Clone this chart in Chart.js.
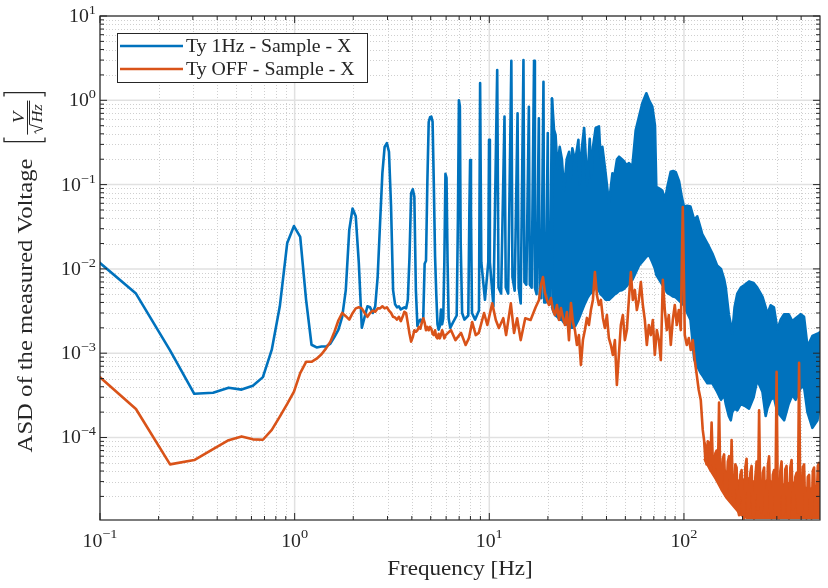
<!DOCTYPE html>
<html>
<head>
<meta charset="utf-8">
<script src="https://cdn.jsdelivr.net/npm/chart.js@4.4.0/dist/chart.umd.min.js"></script>
<style>
  html, body { margin: 0; padding: 0; background: #fff; }
  #wrap { width: 828px; height: 588px; position: relative; }
</style>
</head>
<body>
<div id="wrap"><canvas id="chart_asd_sample_x"></canvas></div>
<script>
// axis ticks
var xTickValues = [0.1, 1, 10, 100];
var xTickExponents = ['\u22121', '0', '1', '2'];
var yTickValues = [1e-4, 1e-3, 1e-2, 1e-1, 1, 10];
var yTickExponents = ['\u22124', '\u22123', '\u22122', '\u22121', '0', '1'];
var xMin = 0.1, xMax = 500, yMin = 1.05e-5, yMax = 10;

var seriesNames = ['Ty 1Hz - Sample - X', 'Ty OFF - Sample - X'];

// Ty 1Hz: resolved line up to ~21 Hz
var blueLowFreq = [0.0763, 0.153, 0.229, 0.305, 0.381, 0.458, 0.534, 0.610, 0.687, 0.763,
  0.839, 0.916, 0.992, 1.068, 1.145, 1.221, 1.297, 1.374, 1.450, 1.526,
  1.602, 1.679, 1.755, 1.831, 1.908, 1.984, 2.060, 2.136, 2.213, 2.289,
  2.365, 2.441, 2.518, 2.594, 2.670, 2.747, 2.823, 2.899, 2.976, 3.052,
  3.128, 3.204, 3.281, 3.357, 3.433, 3.510, 3.586, 3.662, 3.738, 3.815,
  3.891, 3.967, 4.044, 4.120, 4.196, 4.272, 4.349, 4.425, 4.501, 4.578,
  4.654, 4.730, 4.807, 4.883, 4.960, 5.036, 5.112, 5.188, 5.265, 5.341,
  5.417, 5.494, 5.570, 5.646, 5.723, 5.800, 5.876, 5.952, 6.029, 6.105,
  6.181, 6.30, 6.50, 6.80, 6.90, 6.98, 7.06, 7.13, 7.25, 7.45,
  7.80, 7.90, 7.97, 8.05, 8.15, 8.45, 8.85, 8.97, 9.10, 9.50,
  9.88, 9.97, 10.07, 10.5, 10.98, 11.15, 11.5, 11.97, 12.15, 12.5,
  12.98, 13.15, 13.5, 13.97, 14.15, 14.5, 14.98, 15.15, 15.5, 15.97,
  16.15, 16.5, 16.98, 17.15, 17.5, 17.97, 18.15, 18.5, 18.98, 19.15,
  19.5, 19.97, 20.15, 20.5, 20.98, 21.2];
var blueLowAsd = [0.020, 0.0051, 0.00108, 0.00033, 0.00034, 0.00039, 0.00037, 0.00041, 0.00052, 0.0011,
  0.0036, 0.0203, 0.0322, 0.024, 0.0043, 0.00126, 0.00117, 0.0012, 0.0012, 0.0013,
  0.00156, 0.0019, 0.0027, 0.0056, 0.029, 0.052, 0.042, 0.0118, 0.0020, 0.0027,
  0.0036, 0.0035, 0.0030, 0.0036, 0.0081, 0.035, 0.137, 0.28, 0.31, 0.245,
  0.055, 0.0056, 0.0038, 0.0035, 0.0036, 0.0033, 0.0034, 0.0035, 0.0034, 0.0043,
  0.014, 0.079, 0.088, 0.072, 0.0056, 0.0021, 0.0024, 0.0025, 0.0023, 0.0026,
  0.0115, 0.0125, 0.11, 0.55, 0.63, 0.64, 0.56, 0.10, 0.014, 0.0050,
  0.0022, 0.0019, 0.0021, 0.0033, 0.0022, 0.0026, 0.012, 0.134, 0.12, 0.012,
  0.0026, 0.0020, 0.0023, 0.0028, 0.04, 1.0, 0.85, 0.02, 0.0030, 0.0025,
  0.0028, 0.05, 0.196, 0.05, 0.0030, 0.0025, 0.0032, 1.6, 0.012, 0.0043,
  0.012, 0.34, 0.012, 0.0036, 2.29, 0.006, 0.0051, 0.64, 0.006, 0.0051,
  2.95, 0.008, 0.0055, 0.70, 0.006, 0.0039, 3.0, 0.007, 0.0065, 0.84,
  0.0065, 0.0060, 2.95, 0.006, 0.0050, 0.61, 0.005, 0.0045, 1.66, 0.004,
  0.004, 0.41, 0.004, 0.0038, 1.05, 0.0035];

// Ty 1Hz: dense part above ~21 Hz, upper and lower envelope
var blueBandFreq = [21.0, 21.5, 21.9, 22.4, 23.0, 23.6, 24.2, 25.0, 25.7, 26.2,
  26.7, 27.6, 28.7, 29.1, 29.6, 30.7, 31.9, 32.8, 33.5, 34.1,
  35.2, 36.6, 37.3, 38.1, 39.6, 41.2, 42.9, 44.0, 45.3, 46.4,
  48.0, 49.2, 50.6, 52.2, 54.3, 56.5, 58.8, 61.1, 64.1, 66.2,
  68.8, 71.0, 72.1, 74.5, 77.4, 80.0, 82.2, 85.5, 88.0, 90.8,
  94.4, 97.4, 100, 104, 108, 113, 117, 122, 124, 132,
  140, 148, 155, 161, 164, 170, 174, 177, 182, 188,
  196, 204, 216, 228, 238, 253, 263, 268, 279, 290,
  302, 314, 327, 345, 360, 375, 398, 414, 431, 457,
  485, 505];
var blueBandUpper = [1.05, 0.45, 0.39, 0.15, 0.28, 0.20, 0.086, 0.20, 0.245, 0.12,
  0.27, 0.19, 0.34, 0.10, 0.22, 0.47, 0.099, 0.35, 0.12, 0.28,
  0.47, 0.49, 0.20, 0.28, 0.136, 0.060, 0.136, 0.13, 0.20, 0.214,
  0.20, 0.19, 0.17, 0.18, 0.163, 0.44, 0.64, 0.92, 1.21, 1.0,
  0.84, 0.50, 0.094, 0.090, 0.085, 0.066, 0.094, 0.142, 0.145, 0.140,
  0.110, 0.072, 0.055, 0.056, 0.055, 0.038, 0.042, 0.030, 0.026, 0.020,
  0.0152, 0.011, 0.010, 0.0075, 0.0060, 0.0029, 0.0022, 0.0017, 0.0035, 0.0051,
  0.0060, 0.0064, 0.0071, 0.0068, 0.0060, 0.0047, 0.0035, 0.0029, 0.0037, 0.0035,
  0.0019, 0.0025, 0.0029, 0.0029, 0.0024, 0.0026, 0.0029, 0.0027, 0.0012, 0.0016,
  0.0017, 0.0018];
var blueBandLower = [0.0035, 0.0030, 0.0028, 0.0027, 0.0025, 0.0025, 0.0023, 0.0022, 0.0021, 0.0020,
  0.0020, 0.0021, 0.0025, 0.0027, 0.0030, 0.0037, 0.0045, 0.0050, 0.0052, 0.0055,
  0.0061, 0.0055, 0.0050, 0.0048, 0.0043, 0.0043, 0.0047, 0.0050, 0.0052, 0.0055,
  0.0056, 0.0058, 0.0062, 0.0068, 0.0074, 0.0090, 0.0110, 0.0122, 0.0140, 0.0146,
  0.0120, 0.0100, 0.0085, 0.0075, 0.0065, 0.0058, 0.0052, 0.0049, 0.0047, 0.0046,
  0.0042, 0.0039, 0.0037, 0.0030, 0.0025, 0.00084, 0.00070, 0.00058, 0.00055, 0.00044,
  0.00044, 0.00035, 0.00028, 0.00032, 0.00025, 0.00018, 0.00016, 0.00020, 0.00022, 0.00021,
  0.00025, 0.00024, 0.00022, 0.00030, 0.00048, 0.00035, 0.00018, 0.00022, 0.00028, 0.00030,
  0.00020, 0.00018, 0.00016, 0.00025, 0.00032, 0.00028, 0.00039, 0.00040, 0.00020, 0.00013,
  0.00016, 0.00030];

// Ty OFF
var orangeFreq = [0.0763, 0.153, 0.229, 0.305, 0.381, 0.458, 0.534, 0.610, 0.687, 0.763,
  0.839, 0.916, 0.992, 1.068, 1.145, 1.221, 1.297, 1.374, 1.450, 1.526,
  1.602, 1.679, 1.755, 1.831, 1.908, 1.984, 2.060, 2.136, 2.213, 2.289,
  2.365, 2.441, 2.518, 2.594, 2.670, 2.747, 2.823, 2.899, 2.976, 3.052,
  3.128, 3.204, 3.281, 3.357, 3.433, 3.510, 3.586, 3.662, 3.738, 3.815,
  3.891, 3.967, 4.044, 4.120, 4.196, 4.272, 4.349, 4.425, 4.501, 4.578,
  4.654, 4.730, 4.807, 4.883, 4.960, 5.036, 5.112, 5.188, 5.265, 5.341,
  5.417, 5.494, 5.570, 5.646, 5.723, 5.800, 5.876, 5.97, 6.35, 6.70,
  7.16, 7.56, 7.86, 8.17, 8.52, 8.83, 9.40, 9.77, 10.35, 10.8,
  11.2, 11.8, 12.2, 12.9, 13.4, 13.9, 14.5, 15.3, 16.3, 17.3,
  18.0, 18.43, 18.87, 19.32, 19.78, 20.26, 20.74, 21.24, 21.74, 22.26,
  22.80, 23.34, 23.90, 24.47, 25.06, 25.66, 26.27, 26.90, 27.54, 28.20,
  28.87, 29.56, 30.27, 30.99, 31.73, 32.49, 33.27, 34.06, 34.88, 35.71,
  36.56, 37.44, 38.33, 39.25, 40.19, 41.15, 42.13, 43.14, 44.17, 45.23,
  46.31, 47.41, 48.55, 49.71, 50.90, 52.11, 53.36, 54.63, 55.94, 57.28,
  58.65, 60.05, 61.49, 62.96, 64.46, 66.00, 67.58, 69.20, 70.85, 72.55,
  74.28, 76.06, 77.88, 79.74, 81.65, 83.60, 85.60, 87.64, 89.74, 91.88,
  94.08, 96.33, 98.63, 100.99, 103.4, 105.9, 108.4, 111.0, 113.6, 116.4,
  119.1, 122.0, 124.9,
  126.9, 128.8, 130.7, 132.6, 134.6, 136.6, 138.7, 140.7, 142.8, 145.0,
  147.1, 149.3, 151.5, 153.8, 156.1, 158.4, 160.8, 163.2, 165.6, 168.1,
  170.6, 173.1, 175.7, 178.3, 181.0, 183.7, 186.4, 189.2, 192.0, 194.9,
  197.8, 200.7, 203.7, 206.7, 209.8, 212.9, 216.1, 219.3, 222.6, 225.9,
  229.3, 232.7, 236.2, 239.7, 243.3, 246.9, 250.6, 254.3, 258.1, 261.9,
  265.8, 269.8, 273.8, 277.9, 282.0, 286.2, 290.5, 294.8, 299.2, 303.7,
  308.2, 312.8, 317.4, 322.1, 326.9, 331.8, 336.7, 341.7, 346.8, 352.0,
  357.3, 362.6, 368.0, 373.5, 379.0, 384.7, 390.4, 396.2, 402.1, 408.1,
  414.2, 420.4, 426.6, 432.9, 439.4, 445.9, 452.6, 459.3, 466.2, 473.1,
  480.2, 487.3, 494.6, 502.0, 509.4];
var orangeAsd = [9.0e-4, 2.18e-4, 4.8e-5, 5.4e-5, 7.3e-5, 9.3e-5, 1.03e-4, 9.5e-5, 9.4e-5, 1.23e-4,
  1.77e-4, 2.5e-4, 3.5e-4, 5.8e-4, 7.9e-4, 7.9e-4, 8.6e-4, 9.7e-4, 1.14e-3, 1.37e-3,
  1.8e-3, 2.46e-3, 3.0e-3, 2.75e-3, 2.5e-3, 2.98e-3, 3.4e-3, 3.5e-3, 3.4e-3, 3.0e-3,
  2.7e-3, 3.0e-3, 3.2e-3, 3.1e-3, 3.4e-3, 3.4e-3, 3.6e-3, 3.4e-3, 3.5e-3, 3.2e-3,
  3.0e-3, 2.7e-3, 2.65e-3, 2.5e-3, 2.7e-3, 2.4e-3, 2.7e-3, 3.1e-3, 3.0e-3, 2.26e-3,
  1.7e-3, 1.37e-3, 1.55e-3, 1.87e-3, 1.8e-3, 1.87e-3, 2.05e-3, 1.95e-3, 2.3e-3, 2.6e-3,
  2.3e-3, 1.87e-3, 2.05e-3, 1.87e-3, 2.05e-3, 1.95e-3, 1.7e-3, 1.64e-3, 1.87e-3, 1.56e-3,
  1.5e-3, 1.7e-3, 1.5e-3, 1.64e-3, 1.87e-3, 1.7e-3, 1.5e-3, 1.64e-3, 1.88e-3, 1.43e-3,
  1.74e-3, 1.25e-3, 1.51e-3, 2.34e-3, 1.64e-3, 1.74e-3, 3.0e-3, 2.16e-3, 3.9e-3, 2.48e-3,
  1.99e-3, 2.6e-3, 1.64e-3, 3.9e-3, 1.74e-3, 2.6e-3, 1.43e-3, 2.6e-3, 2.48e-3, 3.5e-3,
  4.28e-3, 6.44e-3, 8.0e-3, 5.18e-3, 4.28e-3, 3.73e-3, 4.52e-3, 3.25e-3, 2.84e-3, 3.73e-3,
  2.48e-3, 3.44e-3, 2.62e-3, 2.16e-3, 3.08e-3, 1.43e-3, 3.94e-3, 2.34e-3, 1.88e-3, 1.25e-3,
  1.64e-3, 7.24e-4, 1.43e-3, 1.88e-3, 2.62e-3, 2.16e-3, 3.25e-3, 4.28e-3, 9.19e-3, 4.90e-3,
  3.73e-3, 4.28e-3, 2.62e-3, 1.99e-3, 2.84e-3, 1.51e-3, 1.25e-3, 9.53e-4, 1.43e-3, 4.20e-4,
  9.53e-4, 2.16e-3, 2.84e-3, 1.43e-3, 1.88e-3, 4.28e-3, 9.19e-3, 4.28e-3, 5.62e-3, 3.25e-3,
  4.28e-3, 7.0e-3, 3.73e-3, 2.48e-3, 1.25e-3, 2.16e-3, 1.64e-3, 2.48e-3, 9.53e-4, 1.88e-3,
  1.43e-3, 8.30e-4, 7.4e-3, 3.25e-3, 1.88e-3, 2.84e-3, 1.25e-3, 2.48e-3, 3.73e-3, 2.16e-3,
  3.25e-3, 1.88e-3, 0.054, 1.64e-3, 1.25e-3, 1.51e-3, 1.09e-3, 1.43e-3, 8.30e-4, 5.5e-4,
  3.66e-4, 2.79e-4, 1.23e-4,
  9.3e-5, 5.5e-5, 4.8e-5, 9.0e-5, 8.6e-5, 4.6e-5, 1.5e-4, 5.0e-5, 4.1e-5, 6.5e-5,
  7.0e-5, 3.2e-5, 2.6e-4, 2.8e-5, 3.0e-5, 5.6e-5, 6.3e-5, 2.2e-5, 2.4e-5, 5.2e-5,
  6.0e-5, 2.0e-5, 9.3e-5, 2.4e-5, 1.6e-5, 4.8e-5, 4.4e-5, 1.4e-5, 1.2e-5, 3.6e-5,
  4.1e-5, 1.2e-5, 1.1e-5, 4.4e-5, 5.6e-5, 1.3e-5, 1.5e-5, 3.8e-5, 4.6e-5, 1.2e-5,
  1.1e-5, 3.4e-5, 5.2e-5, 1.4e-5, 2.1e-4, 1.6e-5, 1.3e-5, 3.8e-5, 4.4e-5, 1.2e-5,
  1.2e-5, 4.6e-5, 6.0e-5, 1.3e-5, 1.1e-5, 3.6e-5, 4.1e-5, 1.3e-5, 6.0e-4, 1.4e-5,
  1.1e-5, 4.0e-5, 5.2e-5, 1.2e-5, 1.3e-5, 4.2e-5, 4.6e-5, 1.2e-5, 1.1e-5, 4.4e-5,
  5.4e-5, 1.4e-5, 1.5e-5, 3.4e-5, 3.8e-5, 1.3e-5, 7.7e-4, 1.3e-5, 1.2e-5, 4.4e-5,
  4.8e-5, 1.2e-5, 1.1e-5, 3.4e-5, 3.6e-5, 1.2e-5, 1.1e-5, 4.0e-5, 4.4e-5, 1.3e-5,
  1.6e-5, 4.6e-5, 5.0e-5, 1.3e-5, 1.1e-5];

// Ty OFF: dense floor above ~125 Hz, upper and lower envelope
var orangeBandFreq = [127, 135, 145, 155, 165, 180, 195, 210, 230, 250,
  270, 300, 330, 360, 400, 450, 505];
var orangeBandUpper = [9.0e-5, 7.0e-5, 5.5e-5, 4.5e-5, 4.0e-5, 3.4e-5, 3.0e-5, 3.4e-5, 3.0e-5, 2.8e-5,
  3.2e-5, 2.8e-5, 2.8e-5, 3.0e-5, 2.6e-5, 2.5e-5, 2.8e-5];
var orangeBandLower = [5.5e-5, 4.2e-5, 3.2e-5, 2.4e-5, 1.9e-5, 1.5e-5, 1.2e-5, 1.1e-5, 1.1e-5, 1.1e-5,
  1.1e-5, 1.1e-5, 1.1e-5, 1.1e-5, 1.1e-5, 1.1e-5, 1.1e-5];

var BLUE = '#0072BD', ORANGE = '#D95319', INK = '#262626';
var SERIF = '"Liberation Serif", "DejaVu Serif", serif';

function toPoints(f, v) {
  return f.map(function (x, i) { return { x: x, y: v[i] }; });
}

function drawText(ctx, txt, x, y, size, align, italic, sx) {
  sx = sx || 1.1;
  ctx.font = (italic ? 'italic ' : '') + size + 'px ' + SERIF;
  var w = ctx.measureText(txt).width * sx;
  var left = x;
  if (align === 'center') left = x - w / 2;
  else if (align === 'right') left = x - w;
  ctx.save();
  ctx.translate(left, y);
  ctx.scale(sx, 1);
  ctx.textAlign = 'left';
  ctx.textBaseline = 'alphabetic';
  ctx.fillText(txt, 0, 0);
  ctx.restore();
  return w;
}
function textWidth(ctx, txt, size, italic, sx) {
  ctx.font = (italic ? 'italic ' : '') + size + 'px ' + SERIF;
  return ctx.measureText(txt).width * (sx || 1.1);
}

function minorValues(lo, hi) {
  var out = [];
  for (var e = Math.floor(Math.log10(lo)); e <= Math.ceil(Math.log10(hi)); e++) {
    for (var k = 2; k <= 9; k++) {
      var v = k * Math.pow(10, e);
      if (v > lo && v < hi) out.push(v);
    }
  }
  return out;
}

var axesDecor = {
  id: 'axesDecor',
  beforeDatasetsDraw: function (chart) {
    var ctx = chart.ctx, a = chart.chartArea;
    var xs = chart.scales.x, ys = chart.scales.y;
    ctx.save();
    ctx.fillStyle = '#ffffff';
    ctx.fillRect(0, 0, chart.width, chart.height);
    // minor grid
    ctx.strokeStyle = '#cfcfcf';
    ctx.lineWidth = 1;
    ctx.setLineDash([1, 2]);
    minorValues(xMin, xMax).forEach(function (v) {
      var px = Math.round(xs.getPixelForValue(v)) + 0.5;
      ctx.beginPath(); ctx.moveTo(px, a.top); ctx.lineTo(px, a.bottom); ctx.stroke();
    });
    minorValues(yMin, yMax).forEach(function (v) {
      var py = Math.round(ys.getPixelForValue(v)) + 0.5;
      ctx.beginPath(); ctx.moveTo(a.left, py); ctx.lineTo(a.right, py); ctx.stroke();
    });
    // major grid
    ctx.setLineDash([]);
    ctx.strokeStyle = '#e1e1e1';
    ctx.lineWidth = 1.5;
    xTickValues.forEach(function (v) {
      var px = xs.getPixelForValue(v);
      ctx.beginPath(); ctx.moveTo(px, a.top); ctx.lineTo(px, a.bottom); ctx.stroke();
    });
    yTickValues.forEach(function (v) {
      var py = ys.getPixelForValue(v);
      ctx.beginPath(); ctx.moveTo(a.left, py); ctx.lineTo(a.right, py); ctx.stroke();
    });
    ctx.restore();
  },
  afterDatasetsDraw: function (chart) {
    var ctx = chart.ctx, a = chart.chartArea;
    var xs = chart.scales.x, ys = chart.scales.y;
    ctx.save();
    ctx.strokeStyle = INK;
    ctx.fillStyle = INK;
    ctx.lineWidth = 1.2;
    ctx.strokeRect(a.left, a.top, a.right - a.left, a.bottom - a.top);
    // tick marks on all four sides
    ctx.lineWidth = 1;
    function xTick(v, len) {
      var px = xs.getPixelForValue(v);
      ctx.beginPath();
      ctx.moveTo(px, a.bottom); ctx.lineTo(px, a.bottom - len);
      ctx.moveTo(px, a.top); ctx.lineTo(px, a.top + len);
      ctx.stroke();
    }
    function yTick(v, len) {
      var py = ys.getPixelForValue(v);
      ctx.beginPath();
      ctx.moveTo(a.left, py); ctx.lineTo(a.left + len, py);
      ctx.moveTo(a.right, py); ctx.lineTo(a.right - len, py);
      ctx.stroke();
    }
    minorValues(xMin, xMax).forEach(function (v) { xTick(v, 4); });
    xTickValues.forEach(function (v) { xTick(v, 7); });
    minorValues(yMin, yMax).forEach(function (v) { yTick(v, 4); });
    yTickValues.forEach(function (v) { yTick(v, 7); });

    // tick labels 10^n
    xTickValues.forEach(function (v, i) {
      var px = xs.getPixelForValue(v);
      var w1 = textWidth(ctx, '10', 18), w2 = textWidth(ctx, xTickExponents[i], 13);
      var left = px - (w1 + w2) / 2;
      drawText(ctx, '10', left, a.bottom + 27, 18, 'left');
      drawText(ctx, xTickExponents[i], left + w1, a.bottom + 18, 13, 'left');
    });
    yTickValues.forEach(function (v, i) {
      var py = ys.getPixelForValue(v);
      var w1 = textWidth(ctx, '10', 18), w2 = textWidth(ctx, yTickExponents[i], 13);
      var left = a.left - 4 - (w1 + w2);
      drawText(ctx, '10', left, py + 6, 18, 'left');
      drawText(ctx, yTickExponents[i], left + w1, py - 2, 13, 'left');
    });

    // x title
    drawText(ctx, 'Frequency [Hz]', (a.left + a.right) / 2, 575, 21, 'center');

    // y title with unit fraction [V / sqrt(Hz)]
    var main = 'ASD of the measured Voltage';
    var wMain = textWidth(ctx, main, 22, false, 1.12);
    var gap = 14, wGroup = 55;
    var total = wMain + gap + wGroup;
    ctx.save();
    ctx.translate(32, (a.top + a.bottom) / 2);
    ctx.rotate(-Math.PI / 2);
    var u0 = -total / 2 - 3;
    drawText(ctx, main, u0, 0, 22, 'left', false, 1.12);
    var u1 = u0 + wMain + gap;
    ctx.lineWidth = 1.3;
    ctx.beginPath();
    ctx.moveTo(u1 + 7, -28); ctx.lineTo(u1 + 3, -28); ctx.lineTo(u1 + 3, 13); ctx.lineTo(u1 + 7, 13);
    ctx.moveTo(u1 + 48, -28); ctx.lineTo(u1 + 52, -28); ctx.lineTo(u1 + 52, 13); ctx.lineTo(u1 + 48, 13);
    ctx.stroke();
    var fl = u1 + 10, fw = 34;
    ctx.lineWidth = 1;
    ctx.beginPath(); ctx.moveTo(fl, -4.5); ctx.lineTo(fl + fw, -4.5); ctx.stroke();
    drawText(ctx, 'V', fl + fw / 2, -8, 17, 'center', true);
    ctx.beginPath();
    ctx.moveTo(fl + 1, 4); ctx.lineTo(fl + 3, 2.5); ctx.lineTo(fl + 6, 11);
    ctx.lineTo(fl + 10, -2.5); ctx.lineTo(fl + fw, -2.5);
    ctx.stroke();
    drawText(ctx, 'Hz', fl + 12, 10, 15, 'left', true);
    ctx.restore();

    // legend
    var lx = 117, ly = 33, lw = 250, lh = 49;
    ctx.fillStyle = '#ffffff';
    ctx.fillRect(lx, ly, lw, lh);
    ctx.strokeStyle = INK;
    ctx.lineWidth = 1;
    ctx.strokeRect(lx + 0.5, ly + 0.5, lw, lh);
    var entries = chart.data.datasets.filter(function (d) { return d.inLegend; })
      .sort(function (p, q) { return p.legendRank - q.legendRank; });
    entries.forEach(function (d, i) {
      var yy = ly + 13 + i * 23;
      ctx.strokeStyle = d.borderColor;
      ctx.lineWidth = 2.6;
      ctx.beginPath(); ctx.moveTo(lx + 3, yy); ctx.lineTo(lx + 66, yy); ctx.stroke();
      ctx.fillStyle = INK;
      drawText(ctx, d.label, lx + 69, yy + 6, 18, 'left');
    });
    ctx.restore();
  }
};

var lineStyle = {
  pointRadius: 0,
  borderWidth: 2.6,
  tension: 0,
  borderJoinStyle: 'round',
  borderCapStyle: 'round',
  clip: 0
};

var chart_asd_sample_x = new Chart(document.getElementById('chart_asd_sample_x'), {
  type: 'line',
  data: {
    datasets: [
      Object.assign({
        label: seriesNames[1], inLegend: true, legendRank: 1,
        data: toPoints(orangeFreq, orangeAsd),
        borderColor: ORANGE, backgroundColor: ORANGE, fill: false, order: 0
      }, lineStyle),
      Object.assign({
        label: 'off floor upper',
        data: toPoints(orangeBandFreq, orangeBandUpper),
        borderColor: ORANGE, backgroundColor: ORANGE, fill: '+1', order: 0.5
      }, lineStyle, { borderWidth: 1.5 }),
      Object.assign({
        label: 'off floor lower',
        data: toPoints(orangeBandFreq, orangeBandLower),
        borderColor: ORANGE, backgroundColor: ORANGE, fill: false, order: 0.6
      }, lineStyle, { borderWidth: 1.5 }),
      Object.assign({
        label: seriesNames[0], inLegend: true, legendRank: 0,
        data: toPoints(blueLowFreq, blueLowAsd),
        borderColor: BLUE, backgroundColor: BLUE, fill: false, order: 1
      }, lineStyle),
      Object.assign({
        label: 'band upper',
        data: toPoints(blueBandFreq, blueBandUpper),
        borderColor: BLUE, backgroundColor: BLUE, fill: '+1', order: 2
      }, lineStyle),
      Object.assign({
        label: 'band lower',
        data: toPoints(blueBandFreq, blueBandLower),
        borderColor: BLUE, backgroundColor: BLUE, fill: false, order: 3
      }, lineStyle)
    ]
  },
  options: {
    animation: false,
    responsive: true,
    maintainAspectRatio: false,
    devicePixelRatio: 1,
    layout: { padding: { left: 100, top: 16, right: 8, bottom: 68 } },
    plugins: {
      legend: { display: false },
      tooltip: { enabled: false },
      title: { display: false }
    },
    scales: {
      x: { type: 'logarithmic', min: xMin, max: xMax, bounds: 'data', display: false },
      y: { type: 'logarithmic', min: yMin, max: yMax, bounds: 'data', display: false }
    }
  },
  plugins: [axesDecor]
});
</script>
</body>
</html>
